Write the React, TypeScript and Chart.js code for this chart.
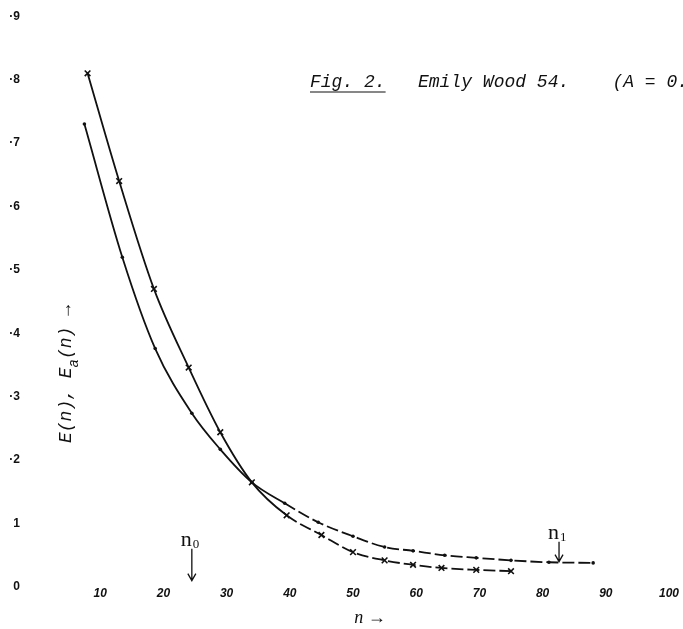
import React, { useEffect, useRef } from 'react';
import { Chart, registerables } from 'chart.js';

Chart.register(...registerables);

// E(n) curve (crosses)
const crossN = [8, 13, 18.5, 24, 29, 34, 39.5, 45, 50, 55, 59.5, 64, 69.5, 75];
const crossE = [0.81, 0.64, 0.47, 0.346, 0.244, 0.165, 0.113, 0.082, 0.055, 0.042, 0.035, 0.03, 0.027, 0.025];
// E_a(n) curve (dots)
const dotN = [7.5, 13.5, 18.7, 24.5, 29, 34, 39.2, 44.5, 50, 55, 59.5, 64.5, 69.5, 75, 81, 88];
const dotE = [0.73, 0.52, 0.376, 0.274, 0.217, 0.165, 0.132, 0.102, 0.08, 0.063, 0.057, 0.05, 0.046, 0.042, 0.039, 0.038];

const xTickLabels = ['', '10', '20', '30', '40', '50', '60', '70', '80', '90', '100'];
const yTickLabels = ['0', '1', '·2', '·3', '·4', '·5', '·6', '·7', '·8', '·9'];

// n0 / n1 markers
const markerSub = ['0', '1'];
const markerN = [24.5, 82.6];
const markerTip = [0.01, 0.04];
const markerLen = [32, 20];

const captionText = 'Fig. 2.   Emily Wood 54.    (A = 0.';

const annotPlugin = {
  id: 'annot',
  afterDraw(chart: any) {
    const ctx = chart.ctx as CanvasRenderingContext2D;
    const xs = chart.scales.x;
    const ys = chart.scales.y;
    ctx.save();
    ctx.fillStyle = '#111';
    ctx.strokeStyle = '#111';

    // caption
    ctx.font = "italic 18px 'Liberation Mono'";
    ctx.textAlign = 'left';
    ctx.textBaseline = 'alphabetic';
    ctx.fillText(captionText, 310, 87);
    const fw = ctx.measureText('Fig. 2.').width;
    ctx.lineWidth = 1.2;
    ctx.beginPath();
    ctx.moveTo(310, 92);
    ctx.lineTo(310 + fw, 92);
    ctx.stroke();

    // y axis title, rotated
    ctx.save();
    ctx.translate(71, 374);
    ctx.rotate(-Math.PI / 2);
    ctx.font = "italic 18px 'Liberation Mono'";
    const p1 = 'E(n), E';
    const sub = 'a';
    const p2 = '(n) \u2192';
    const w1 = ctx.measureText(p1).width;
    const w2 = ctx.measureText(p2).width;
    ctx.font = "italic 14px 'Liberation Mono'";
    const ws = ctx.measureText(sub).width;
    const total = w1 + ws + w2;
    const x0 = -total / 2;
    ctx.font = "italic 18px 'Liberation Mono'";
    ctx.fillText(p1, x0, 0);
    ctx.font = "italic 14px 'Liberation Mono'";
    ctx.fillText(sub, x0 + w1, 7);
    ctx.font = "italic 18px 'Liberation Mono'";
    ctx.fillText(p2, x0 + w1 + ws, 0);
    ctx.restore();

    // x axis title
    ctx.font = "italic 18px 'Liberation Serif'";
    ctx.textAlign = 'center';
    ctx.fillText('n \u2192', 370, 623);

    // n0, n1 arrows
    for (let i = 0; i < markerN.length; i++) {
      const px = xs.getPixelForValue(markerN[i]);
      const tip = ys.getPixelForValue(markerTip[i]);
      const top = tip - markerLen[i];
      ctx.lineWidth = 1.3;
      ctx.beginPath();
      ctx.moveTo(px, top);
      ctx.lineTo(px, tip);
      ctx.moveTo(px - 4, tip - 7);
      ctx.lineTo(px, tip);
      ctx.lineTo(px + 4, tip - 7);
      ctx.stroke();
      ctx.textAlign = 'left';
      ctx.font = "22px 'Liberation Serif'";
      const nw = ctx.measureText('n').width;
      ctx.fillText('n', px - nw, top - 3);
      ctx.font = "13px 'Liberation Serif'";
      ctx.fillText(markerSub[i], px + 1, top - 1);
    }
    ctx.restore();
  },
};

export default function App() {
  const ref = useRef<HTMLCanvasElement | null>(null);
  useEffect(() => {
    if (!ref.current) return;
    const lateDash = (ctx: any) => (ctx.p0.parsed.x >= 36 ? [12, 4] : undefined);
    const chart = new Chart(ref.current, {
      type: 'line',
      data: {
        datasets: [
          {
            label: 'E(n)',
            data: crossN.map((n, i) => ({ x: n, y: crossE[i] })),
            borderColor: '#111',
            backgroundColor: '#111',
            borderWidth: 1.8,
            pointStyle: 'crossRot',
            pointRadius: 4,
            pointBorderWidth: 1.6,
            cubicInterpolationMode: 'monotone',
            segment: { borderDash: lateDash },
            fill: false,
          },
          {
            label: 'Ea(n)',
            data: dotN.map((n, i) => ({ x: n, y: dotE[i] })),
            borderColor: '#111',
            backgroundColor: '#111',
            borderWidth: 1.8,
            pointStyle: 'circle',
            pointRadius: 1.8,
            pointBorderWidth: 0,
            cubicInterpolationMode: 'monotone',
            segment: { borderDash: lateDash },
            fill: false,
          },
        ],
      },
      options: {
        responsive: false,
        animation: false,
        layout: { padding: { top: 15, right: 14, left: 0, bottom: 0 } },
        plugins: { legend: { display: false }, tooltip: { enabled: false }, title: { display: false } },
        scales: {
          x: {
            type: 'linear',
            min: 0,
            max: 100,
            grid: { display: false },
            border: { display: false },
            afterFit: (s: any) => { s.height = 42; },
            ticks: {
              stepSize: 10,
              padding: -9,
              color: '#111',
              maxRotation: 0,
              font: { family: "'Liberation Sans'", size: 12, style: 'italic', weight: 'bold' },
              callback: (_v: any, i: number) => xTickLabels[i] ?? '',
            },
          },
          y: {
            type: 'linear',
            min: 0,
            max: 0.9,
            grid: { display: false },
            border: { display: false },
            afterFit: (s: any) => { s.width = 37; },
            ticks: {
              stepSize: 0.1,
              padding: 9,
              color: '#111',
              font: { family: "'Liberation Sans'", size: 12, weight: 'bold' },
              callback: (_v: any, i: number) => yTickLabels[i] ?? '',
            },
          },
        },
      },
      plugins: [annotPlugin],
    } as any);
    return () => chart.destroy();
  }, []);
  return (
    <div style={{ position: 'fixed', left: 0, top: 0, width: 683, height: 629, background: '#fff' }}>
      <canvas ref={ref} width={683} height={629} style={{ display: 'block' }} />
    </div>
  );
}
